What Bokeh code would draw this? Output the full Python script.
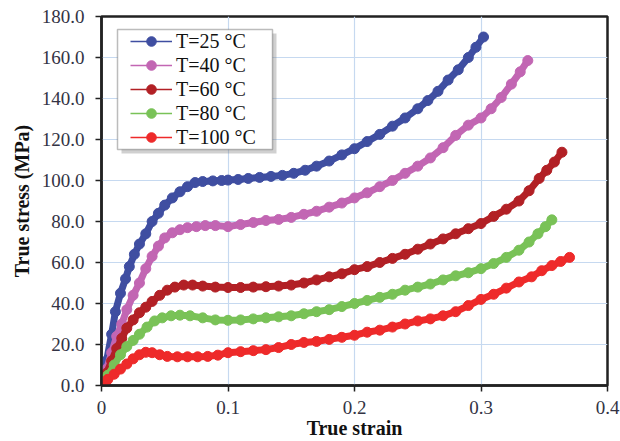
from bokeh.plotting import figure
from bokeh.models import Range1d, FixedTicker, NumeralTickFormatter, Legend, LegendItem, BoxAnnotation
from bokeh.embed import file_html
from bokeh.resources import INLINE

# ---- data ----
x25 = [0, 0.004, 0.008, 0.011, 0.015, 0.019, 0.022, 0.026, 0.030, 0.035, 0.040, 0.045, 0.050, 0.056, 0.062,
       0.068, 0.074, 0.080, 0.088, 0.095, 0.100, 0.108, 0.116, 0.125, 0.134, 0.143, 0.152, 0.161, 0.170, 0.180,
       0.190, 0.200, 0.210, 0.220, 0.230, 0.240, 0.250, 0.258, 0.266, 0.274, 0.282, 0.290, 0.296, 0.302]
y25 = [0, 12, 25, 36, 45, 52, 58, 64, 69, 74, 80, 84, 88, 91.5, 94.5,
       97, 99, 99.5, 99.8, 100, 100.2, 100.5, 101, 101.5, 102, 102.5, 103.5, 105, 107, 109.5,
       112.5, 115.5, 119, 122.5, 126.5, 130.5, 135, 139, 143.5, 149, 154, 160, 165, 170]

x40 = [0, 0.004, 0.008, 0.012, 0.016, 0.020, 0.025, 0.030, 0.035, 0.040, 0.045, 0.050, 0.056, 0.062, 0.068,
       0.075, 0.082, 0.090, 0.100, 0.110, 0.120, 0.130, 0.140, 0.150, 0.160, 0.170, 0.180, 0.190, 0.200, 0.210,
       0.220, 0.230, 0.240, 0.250, 0.260, 0.270, 0.280, 0.290, 0.300, 0.308, 0.316, 0.324, 0.331, 0.337]
y40 = [0, 8, 16, 24, 30, 37, 44, 50, 57, 63, 68, 72, 74.5, 76, 77,
       77.5, 78, 78, 77.5, 78.5, 79.5, 80.5, 81, 82, 83.5, 85, 87, 89, 91.5, 94,
       97, 100, 103.5, 107, 111, 116, 122, 127, 130.5, 135, 140.5, 147, 153, 158.5]

x60 = [0, 0.004, 0.008, 0.012, 0.016, 0.020, 0.025, 0.030, 0.035, 0.040, 0.046, 0.052, 0.058, 0.065, 0.072,
       0.080, 0.090, 0.100, 0.110, 0.120, 0.130, 0.140, 0.150, 0.160, 0.170, 0.180, 0.190, 0.200, 0.210, 0.220,
       0.230, 0.240, 0.250, 0.260, 0.270, 0.280, 0.290, 0.300, 0.310, 0.320, 0.330, 0.338, 0.346, 0.352, 0.358, 0.364]
y60 = [0, 6, 12, 18, 23, 28, 32, 35.5, 38.2, 41, 44, 46.5, 48, 49, 49,
       48.5, 48, 47.8, 47.8, 48, 48.2, 48.5, 49, 50, 51.5, 53, 54.5, 56.5, 58, 60,
       62, 64, 66.5, 69, 71.5, 74, 76.5, 79, 82.5, 86, 90, 95, 101, 105, 109, 113.8]

x80 = [0, 0.005, 0.010, 0.015, 0.020, 0.025, 0.030, 0.036, 0.042, 0.048, 0.055, 0.062, 0.070, 0.080, 0.090,
       0.100, 0.110, 0.120, 0.130, 0.140, 0.150, 0.160, 0.170, 0.180, 0.190, 0.200, 0.210, 0.220, 0.230, 0.240,
       0.250, 0.260, 0.270, 0.280, 0.290, 0.300, 0.310, 0.320, 0.330, 0.338, 0.345, 0.351, 0.356]
y80 = [0, 5, 10, 15, 19, 22, 25, 28.5, 31.5, 33, 34, 34.3, 34, 33, 32,
       31.8, 32, 32.5, 33, 33.5, 34, 35, 36, 37, 38.5, 40, 41.5, 43, 44.5, 46.5,
       48, 49.5, 51.5, 53.5, 55, 57, 59.5, 62.5, 66, 70, 74, 77.5, 80.8]

x100 = [0, 0.005, 0.010, 0.015, 0.020, 0.025, 0.030, 0.035, 0.040, 0.046, 0.052, 0.060, 0.068, 0.076, 0.084,
        0.092, 0.100, 0.110, 0.120, 0.130, 0.140, 0.150, 0.160, 0.170, 0.180, 0.190, 0.200, 0.210, 0.220, 0.230,
        0.240, 0.250, 0.260, 0.270, 0.280, 0.290, 0.300, 0.310, 0.320, 0.330, 0.340, 0.348, 0.356, 0.363, 0.370]
y100 = [0, 3, 5.5, 8, 10.5, 13, 15, 16.2, 16, 15, 14.2, 14, 14, 14, 14.2,
        14.8, 16, 16.5, 17, 17.5, 18.5, 20, 21, 21.5, 22.5, 23.5, 24.5, 26, 27, 28.5,
        30, 31.5, 32.5, 34, 36, 39, 42, 44.5, 47.5, 50.5, 53, 56, 58.5, 60.5, 62.5]

labels = ["T=25 °C", "T=40 °C", "T=60 °C", "T=80 °C", "T=100 °C"]
colors = ["#3f4ea1", "#c266b3", "#b22025", "#79c257", "#ee2a2a"]
x_ticks = [0, 0.1, 0.2, 0.3, 0.4]
y_ticks = [0, 20, 40, 60, 80, 100, 120, 140, 160, 180]

series = [(x25, y25), (x40, y40), (x60, y60), (x80, y80), (x100, y100)]

FONT = "Liberation Serif"
TICK_COLOR = "#333344"

p = figure(width=620, height=441, output_backend="svg", toolbar_location=None,
           x_range=Range1d(0, 0.4), y_range=Range1d(0, 180),
           min_border_left=101, min_border_right=13, min_border_top=16, min_border_bottom=56)

p.background_fill_color = "white"
p.border_fill_color = "white"
p.outline_line_color = "#222222"
p.outline_line_width = 2.5

for ax in (p.xaxis[0], p.yaxis[0]):
    ax.axis_line_color = "#222222"
    ax.axis_line_width = 2.5
    ax.major_tick_line_color = "#222222"
    ax.major_tick_line_width = 1.5
    ax.major_tick_out = 6
    ax.major_tick_in = 0
    ax.minor_tick_line_color = None
    ax.major_label_text_font = FONT
    ax.major_label_text_font_size = "19px"
    ax.major_label_text_color = TICK_COLOR
    ax.axis_label_text_font = FONT
    ax.axis_label_text_font_size = "20px"
    ax.axis_label_text_font_style = "bold"
    ax.axis_label_text_color = "#111111"

p.xaxis[0].ticker = FixedTicker(ticks=x_ticks)
p.yaxis[0].ticker = FixedTicker(ticks=y_ticks)
p.xaxis[0].formatter = NumeralTickFormatter(format="0.[0]")
p.yaxis[0].formatter = NumeralTickFormatter(format="0.0")
p.xaxis[0].axis_label = "True strain"
p.yaxis[0].axis_label = "True stress (MPa)"
p.xaxis[0].axis_label_standoff = 0
p.yaxis[0].axis_label_standoff = 6
p.xaxis[0].major_label_standoff = 9
p.yaxis[0].major_label_standoff = 11

p.xgrid.grid_line_color = "#c6d9f0"
p.ygrid.grid_line_color = "#c6d9f0"
p.xgrid.grid_line_width = 1.2
p.ygrid.grid_line_width = 1.2

items = []
for (xs, ys), lab, col in zip(series, labels, colors):
    p.line(xs, ys, line_color=col, line_width=7)
    sc = p.scatter(xs, ys, size=10, fill_color=col, line_color=col)
    dummy = p.line([-1, -0.5], [-1, -1], line_color=col, line_width=1.5)
    items.append(LegendItem(label=lab, renderers=[dummy, sc]))

# legend frame with soft shadow (frame-relative screen units)
shadow = BoxAnnotation(left=20, right=175, top=352, bottom=232,
                       left_units="screen", right_units="screen", top_units="screen", bottom_units="screen",
                       fill_color="#777777", fill_alpha=0.35, line_color=None, level="annotation")
p.add_layout(shadow)
frame_box = BoxAnnotation(left=16, right=171, top=356, bottom=236,
                          left_units="screen", right_units="screen", top_units="screen", bottom_units="screen",
                          fill_color="white", fill_alpha=1.0, line_color="#222222", line_width=1.5,
                          level="annotation")
p.add_layout(frame_box)

legend = Legend(items=items, location=(29, 236))
legend.label_text_font = FONT
legend.label_text_font_size = "20px"
legend.label_text_color = "#111111"
legend.glyph_width = 42
legend.glyph_height = 24
legend.label_height = 24
legend.label_standoff = 4
legend.spacing = 0
legend.padding = 0
legend.margin = 0
legend.border_line_color = None
legend.background_fill_alpha = 0.0
p.add_layout(legend, "center")

open("out.html", "w").write(file_html(p, INLINE))
